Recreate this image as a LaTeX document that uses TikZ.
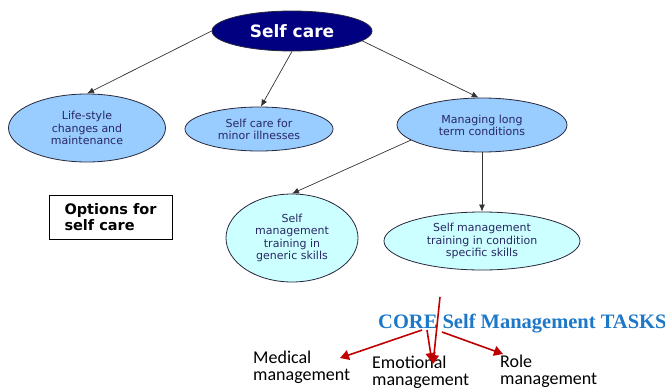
\documentclass[tikz,border=0pt]{standalone}
\usepackage{fontspec}
\usetikzlibrary{shapes.geometric,arrows.meta}
\newfontfamily\dvsans{DejaVu Sans}
\newfontfamily\carl{Carlito}
\newfontfamily\tms{Liberation Serif}
\definecolor{scnavy}{RGB}{0,0,128}
\definecolor{lblue}{RGB}{153,204,255}
\definecolor{lcyan}{RGB}{204,255,255}
\definecolor{edgecol}{RGB}{40,40,60}
\definecolor{txtnavy}{RGB}{40,40,100}
\definecolor{coreblue}{RGB}{30,120,200}
\definecolor{darkred}{RGB}{192,0,0}
\begin{document}
\begin{tikzpicture}[x=1pt,y=-1pt,
  oval/.style={ellipse, draw=edgecol, line width=0.8pt, inner sep=0pt,
    font=\dvsans\fontsize{11}{12.2}\selectfont, text=txtnavy, align=center},
  link/.style={draw=black!80, line width=0.7pt, -{Latex[length=7pt,width=6pt]}},
  task/.style={draw=darkred, line width=1.6pt, -{Triangle[length=9pt,width=10pt]}},
  tasklabel/.style={anchor=north west, inner sep=0pt, align=left,
    font=\carl\fontsize{18}{17}\selectfont}]
\useasboundingbox (0,0) rectangle (665,391);

% concept ellipses
\node[oval, fill=scnavy, minimum width=160, minimum height=40, text=white,
  font=\dvsans\bfseries\fontsize{17}{20}\selectfont] (sc) at (292,31) {Self care};
\node[oval, fill=lblue, minimum width=157, minimum height=68] (life) at (87,128)
  {Life-style\\changes and\\maintenance};
\node[oval, fill=lblue, minimum width=148, minimum height=44] (minor) at (259,129)
  {Self care for\\minor illnesses};
\node[oval, fill=lblue, minimum width=170, minimum height=54] (mlt) at (482,125)
  {Managing long\\term conditions};
\node[oval, fill=lcyan, minimum width=132, minimum height=88] (gen) at (292,238)
  {Self\\management\\training in\\generic skills};
\node[oval, fill=lcyan, minimum width=196, minimum height=58] (cond) at (482,241)
  {Self management\\training in condition\\specific skills};

% caption box
\node[draw=black, line width=0.8pt, minimum width=123, minimum height=44, inner sep=0pt,
  align=left, font=\dvsans\bfseries\fontsize{14.5}{16}\selectfont] (opt) at (110.5,217)
  {Options for\\self care};

% hierarchy links
\draw[link] (sc.west) -- (life.north);
\draw[link] (sc.south) -- (minor.85);
\draw[link] (sc.-8) -- (mlt.97);
\draw[link] (mlt.192) -- (gen.north);
\draw[link] (mlt.south) -- (cond.north);

% core tasks
\node[anchor=base west, inner sep=0pt, text=coreblue,
  font=\tms\bfseries\fontsize{20.5}{24}\selectfont] (core) at (378,328)
  {CORE Self Management TASKS};
\node[tasklabel] (med) at (253,351) {Medical\\management};
\node[tasklabel] (emo) at (372,356) {Emotional\\management};
\node[tasklabel] (role) at (500,355) {Role\\management};

\coordinate (ctop) at (440,297);
\coordinate (cA) at (422,330);
\coordinate (cB) at (427,330);
\coordinate (cC) at (442,332);
\coordinate (tMed) at (340,358);
\coordinate (tEmo) at (433,364);
\coordinate (tEmoB) at (432,362);
\coordinate (tRole) at (503,354);
\draw[task] (ctop) -- (tEmo);
\draw[task] (cA) -- (tMed);
\draw[task] (cB) -- (tEmoB);
\draw[task] (cC) -- (tRole);
\end{tikzpicture}
\end{document}
